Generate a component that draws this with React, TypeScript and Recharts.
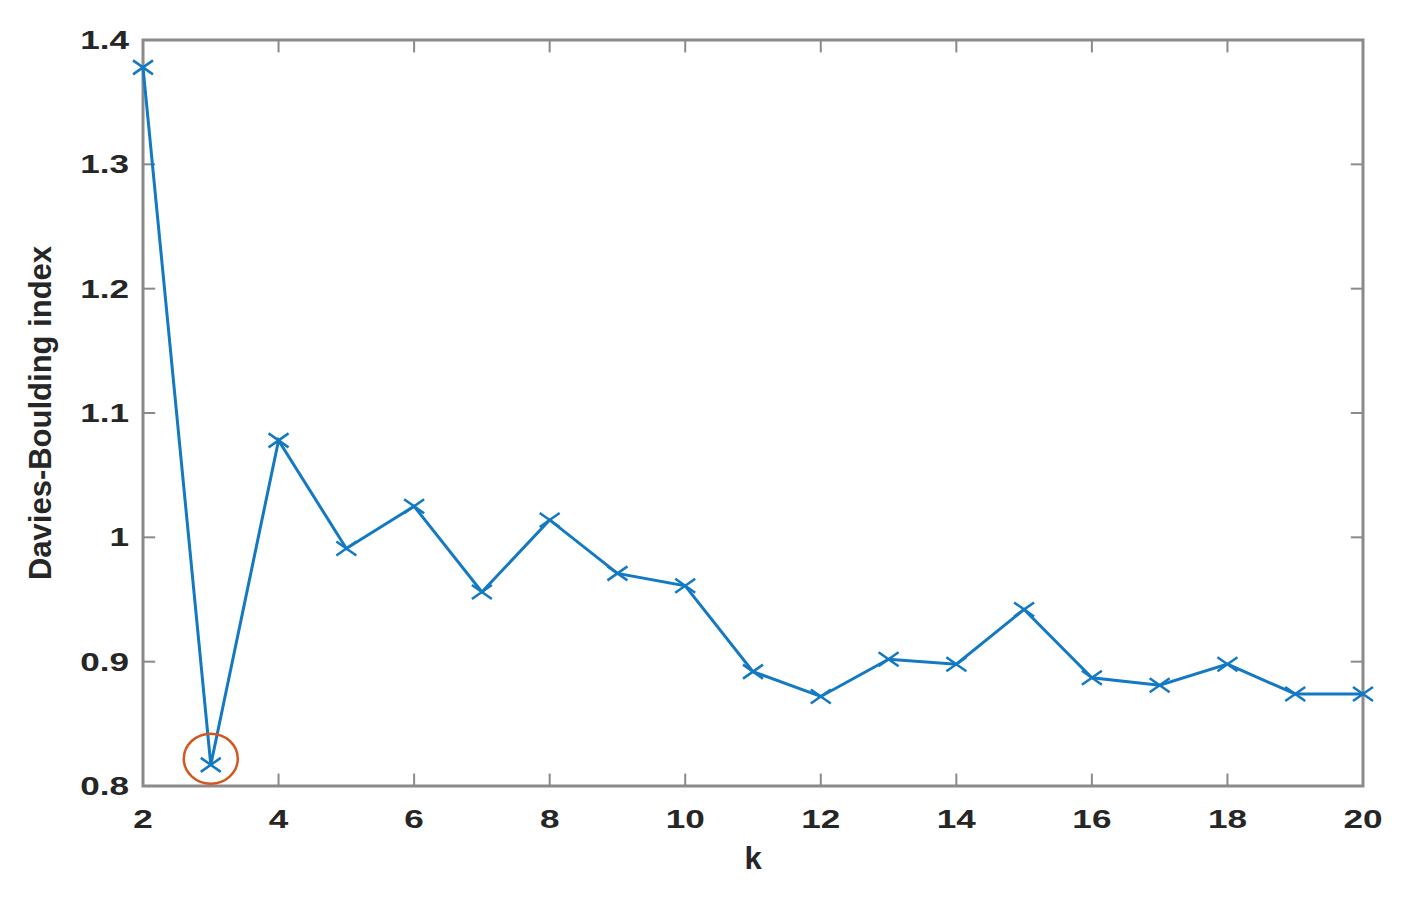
import React from 'react';
import { LineChart, Line, XAxis, YAxis, ReferenceLine, ReferenceArea, ReferenceDot } from 'recharts';

const kValues = [2, 3, 4, 5, 6, 7, 8, 9, 10, 11, 12, 13, 14, 15, 16, 17, 18, 19, 20];
const dbIndex = [1.378, 0.817, 1.078, 0.991, 1.025, 0.956, 1.014, 0.971, 0.961, 0.892, 0.872, 0.902, 0.898, 0.942, 0.887, 0.881, 0.898, 0.874, 0.874];
const xTicks = [2, 4, 6, 8, 10, 12, 14, 16, 18, 20];
const yTicks = [0.8, 0.9, 1, 1.1, 1.2, 1.3, 1.4];
const bestK = 3;
const bestMarkY = 0.822;

const data = kValues.map((k, i) => ({ k, value: dbIndex[i] }));

const BLUE = '#1279c2';
const AXIS = '#8a8a8a';
const TEXT = '#262626';
const FONT = '"Liberation Sans", Arial, sans-serif';

const XTick = (props: any) => {
  const { x, y, payload } = props;
  return (
    <g transform={`translate(${x},${y})`}>
      <text transform="scale(1.35,1)" x={0} y={0} dy={40} textAnchor="middle" fill={TEXT}
        fontFamily={FONT} fontWeight="bold" fontSize={26}>
        {payload.value}
      </text>
    </g>
  );
};

const YTick = (props: any) => {
  const { x, y, payload } = props;
  return (
    <g transform={`translate(${x},${y})`}>
      <text transform="scale(1.35,1)" x={0} y={0} dy={9} textAnchor="end" fill={TEXT}
        fontFamily={FONT} fontWeight="bold" fontSize={26}>
        {String(Math.round(payload.value * 10) / 10)}
      </text>
    </g>
  );
};

const XMark = (props: any) => {
  const { cx, cy, index } = props;
  if (cx == null || cy == null) return <g key={`m-${index}`} />;
  const w = 10, h = 7;
  return (
    <path key={`m-${index}`} d={`M${cx - w},${cy - h}L${cx + w},${cy + h}M${cx - w},${cy + h}L${cx + w},${cy - h}`}
      stroke={BLUE} strokeWidth={2.5} fill="none" />
  );
};

export default function App() {
  return (
    <div style={{ position: 'absolute', left: 0, top: 0, width: 1405, height: 898, background: '#fff' }}>
      <LineChart width={1405} height={898} data={data} margin={{ top: 40, right: 42, bottom: 42, left: 43 }}>
        <XAxis dataKey="k" type="number" domain={[2, 20]} ticks={xTicks} height={70}
          axisLine={false} tickLine={false} tick={<XTick />} tickSize={0}
          label={{ value: 'k', position: 'insideBottom', offset: -13, fill: TEXT, fontFamily: FONT, fontWeight: 'bold', fontSize: 31 }} />
        <YAxis type="number" domain={[0.8, 1.4]} ticks={yTicks} width={100}
          axisLine={false} tickLine={false} tick={<YTick />} tickSize={0} tickMargin={14}
          label={{
            content: (p: any) => {
              const vb = p.viewBox || { x: 43, y: 40, width: 100, height: 746 };
              const cx = vb.x - 3;
              const cy = vb.y + vb.height / 2;
              return (
                <text x={cx} y={cy} transform={`rotate(-90,${cx},${cy})`} textAnchor="middle" dominantBaseline="central"
                  fill={TEXT} fontFamily={FONT} fontWeight="bold" fontSize={31}>
                  Davies-Boulding index
                </text>
              );
            },
          }} />
        <ReferenceArea x1={2} x2={20} y1={0.8} y2={1.4} fill="none" stroke={AXIS} strokeWidth={3} ifOverflow="visible" />
        {xTicks.map((t) => (
          <ReferenceLine key={`xb-${t}`} segment={[{ x: t, y: 0.8 }, { x: t, y: 0.81 }]} stroke={AXIS} strokeWidth={2} />
        ))}
        {xTicks.map((t) => (
          <ReferenceLine key={`xt-${t}`} segment={[{ x: t, y: 1.4 }, { x: t, y: 1.39 }]} stroke={AXIS} strokeWidth={2} />
        ))}
        {yTicks.map((t) => (
          <ReferenceLine key={`yl-${t}`} segment={[{ x: 2, y: t }, { x: 2.18, y: t }]} stroke={AXIS} strokeWidth={2} />
        ))}
        {yTicks.map((t) => (
          <ReferenceLine key={`yr-${t}`} segment={[{ x: 20, y: t }, { x: 19.82, y: t }]} stroke={AXIS} strokeWidth={2} />
        ))}
        <Line type="linear" dataKey="value" stroke={BLUE} strokeWidth={3} dot={XMark} activeDot={false} isAnimationActive={false} />
        <ReferenceDot x={bestK} y={bestMarkY} r={26}
          shape={(p: any) => <ellipse cx={p.cx} cy={p.cy} rx={27} ry={25} fill="none" stroke="#d2561e" strokeWidth={2.5} />} />
      </LineChart>
    </div>
  );
}
